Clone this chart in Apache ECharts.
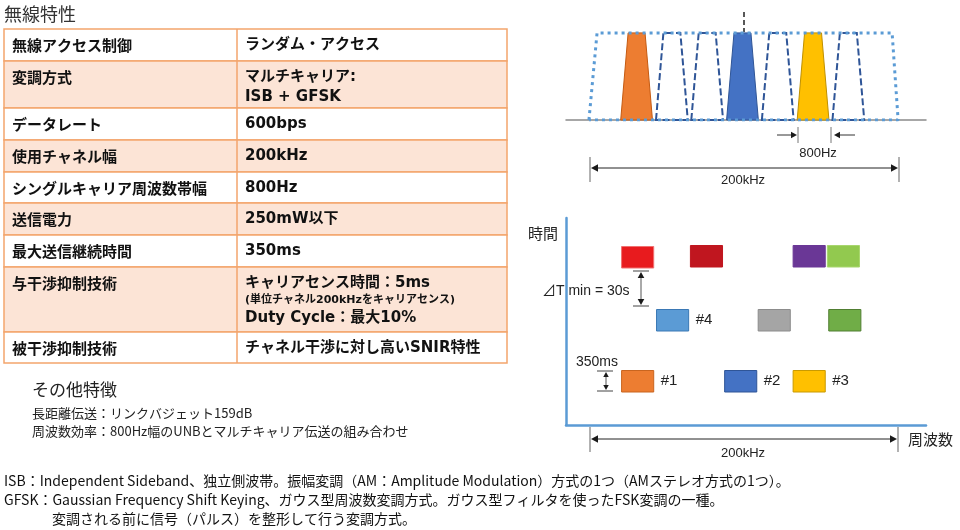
<!DOCTYPE html>
<html><head><meta charset="utf-8">
<script src="https://cdn.jsdelivr.net/npm/echarts@6/dist/echarts.min.js"></script>
<style>html,body{margin:0;padding:0;background:#fff}#c{width:960px;height:530px}</style>
</head><body><div id="c"></div>
<script>
// ---------- data ----------
const tableTitle = '無線特性';
const tableLabels = ['無線アクセス制御','変調方式','データレート','使用チャネル幅','シングルキャリア周波数帯幅','送信電力','最大送信継続時間','与干渉抑制技術','被干渉抑制技術'];
const tableValues = [
  ['ランダム・アクセス'],
  ['マルチキャリア:','ISB + GFSK'],
  ['600bps'],
  ['200kHz'],
  ['800Hz'],
  ['250mW以下'],
  ['350ms'],
  ['キャリアセンス時間：5ms','(単位チャネル200kHzをキャリアセンス)','Duty Cycle：最大10%'],
  ['チャネル干渉に対し高いSNIR特性']
];
const otherTitle = 'その他特徴';
const otherLines = ['長距離伝送：リンクバジェット159dB','周波数効率：800Hz幅のUNBとマルチキャリア伝送の組み合わせ'];
const footnotes = [
  'ISB：Independent Sideband、独立側波帯。振幅変調（AM：Amplitude Modulation）方式の1つ（AMステレオ方式の1つ）。',
  'GFSK：Gaussian Frequency Shift Keying、ガウス型周波数変調方式。ガウス型フィルタを使ったFSK変調の一種。',
  '変調される前に信号（パルス）を整形して行う変調方式。'
];
// spectrum (channel slot units)
const activeSlots = [1, 4, 6];          // #1 #2 #3 carriers
const idleSlots = [2, 3, 5, 7];          // unused carriers (dashed)
const bandOutline = [[-0.35,0],[-0.12,1],[8.24,1],[8.41,0],[-0.35,0]];
// time-frequency map
const tfFreq  = [1.03, 3.95, 5.89, 2.02, 4.90, 6.90, 1.03, 2.98, 5.89, 6.86];
const tfTime  = [3.3, 3.3, 3.3, 9.4, 9.4, 9.4, 15.7, 15.8, 15.8, 15.8];
const tfLabels = ['#1','#2','#3','#4','','','','','',''];
const spanLabel = '200kHz';
const carrierLabel = '800Hz';
const dtLabel = '⊿T min = 30s';
const durLabel = '350ms';
const timeAxisName = '時間';
const freqAxisName = '周波数';

// ---------- styles / layout ----------
const activeFill = ['#ED7D31','#4472C4','#FFC000'];
const activeStroke = ['#C55A11','#2F5597','#BF9000'];
const tfFill = ['#ED7D31','#4472C4','#FFC000','#5B9BD5','#A5A5A5','#70AD47','#E81B1E','#C0161F','#6A3796','#92C94F'];
const tfStroke = ['#C9651F','#2F5597','#C99A00','#3A78B5','#8C8C8C','#507E32','#F07070','#C0161F','#6A3796','#A8D66E'];
const rowEdges = [29,61,108,140,172,203,235,267,332,363];
const valueLineOffsets = {1:[16,36], 7:[16,33,51]};
const tableL = 4, tableR = 507, tableMid = 237;
const CJK = '"Noto Sans CJK JP"';
const BORDER = '#F3A56C';

const g = [];
function txt(text, x, y, font, fill, align, extra) {
  g.push(Object.assign({type:'text', silent:true, style:{text, x, y, font, fill: fill||'#222', align: align||'left', verticalAlign:'middle'}}, extra||{}));
}
function ln(x1,y1,x2,y2,stroke,w,dash){
  g.push({type:'line', silent:true, shape:{x1,y1,x2,y2}, style:{stroke, lineWidth:w||1, lineDash:dash||null}});
}
function head(x,y,dir,s){
  s = s||6; const h = s*0.55; let p;
  if(dir==='r') p=[[x,y],[x-s,y-h],[x-s,y+h]];
  if(dir==='l') p=[[x,y],[x+s,y-h],[x+s,y+h]];
  if(dir==='u') p=[[x,y],[x-h,y+s],[x+h,y+s]];
  if(dir==='d') p=[[x,y],[x-h,y-s],[x+h,y-s]];
  g.push({type:'polygon', silent:true, shape:{points:p}, style:{fill:'#1a1a1a'}});
}

// table
txt(tableTitle, 4, 14, '18px '+CJK, '#333');
for (let i=0;i<tableLabels.length;i++){
  const top=rowEdges[i], bot=rowEdges[i+1];
  g.push({type:'rect', silent:true, shape:{x:tableL,y:top,width:tableR-tableL,height:bot-top},
    style:{fill: i%2? '#FCE4D6':'#FFFFFF', stroke:BORDER, lineWidth:1.5}});
}
ln(tableMid, rowEdges[0], tableMid, rowEdges[rowEdges.length-1], BORDER, 1.5);
for (let i=0;i<tableLabels.length;i++){
  const top=rowEdges[i];
  txt(tableLabels[i], 12, top+16, 'bold 15px '+CJK, '#111');
  const offs = valueLineOffsets[i] || [16];
  tableValues[i].forEach((t,k)=>{
    const small = t.charAt(0)==='(';
    txt(t, 245, top+offs[k], small ? 'bold 11px "DejaVu Sans", '+CJK : 'bold 15px "DejaVu Sans", '+CJK, '#111');
  });
}
// other features
txt(otherTitle, 32, 390, '17px '+CJK, '#222');
txt(otherLines[0], 32, 413, '13px '+CJK, '#222');
txt(otherLines[1], 32, 431, '13px '+CJK, '#222');
// footnotes
txt(footnotes[0], 4, 481, '14px '+CJK, '#111');
txt(footnotes[1], 4, 500, '14px '+CJK, '#111');
txt(footnotes[2], 52, 519, '14px '+CJK, '#111');

// spectrum annotations
ln(744, 12, 744, 32, '#222', 1.5, [5,3]);
ln(798,127,798,143,'#777',1); ln(831,127,831,143,'#777',1);
ln(777,135,792,135,'#333',1); head(797,135,'r',6);
ln(855,135,839,135,'#333',1); head(834,135,'l',6);
txt(carrierLabel, 818, 153, '13px "Liberation Sans"', '#222', 'center');
ln(590,157,590,182,'#999',1.5); ln(899,157,899,182,'#999',1.5);
ln(596,168,893,168,'#222',1); head(591,168,'l',7); head(898,168,'r',7);
txt(spanLabel, 743, 180, '13px "Liberation Sans"', '#222', 'center');

// time-frequency annotations
txt(timeAxisName, 528, 233, '15px '+CJK, '#222');
txt(freqAxisName, 908, 439, '15px '+CJK, '#222');
ln(590,427,590,452,'#999',1.5); ln(898,427,898,452,'#999',1.5);
ln(596,439,892,439,'#222',1); head(591,439,'l',7); head(897,439,'r',7);
txt(spanLabel, 743, 453, '13px "Liberation Sans"', '#222', 'center');
// dT
ln(633,271,649,271,'#444',1); ln(633,306,649,306,'#444',1);
ln(641,277,641,300,'#555',1); head(641,272,'u',6); head(641,305,'d',6);
txt(dtLabel, 542, 291, '14px "Liberation Sans", '+CJK, '#222');
// 350ms
ln(597,371,613,371,'#444',1); ln(597,391,613,391,'#444',1);
ln(606,377,606,385,'#555',1); head(606,372,'u',5); head(606,390,'d',5);
txt(durLabel, 576, 362, '14px "Liberation Sans"', '#222');

const chart = echarts.init(document.getElementById('c'), null, {renderer:'canvas'});
const hidden = {axisTick:{show:false}, axisLabel:{show:false}, splitLine:{show:false}};
chart.setOption({
  backgroundColor:'#fff',
  animation:false,
  grid:[
    {left:566, right:34, top:12, bottom:410},
    {left:566, right:34, top:218, bottom:105}
  ],
  xAxis:[
    Object.assign({type:'value', gridIndex:0, min:-1, max:9.2, axisLine:{show:true, lineStyle:{color:'#8a8a8a', width:1.5}}}, hidden),
    Object.assign({type:'value', gridIndex:1, min:-1, max:9.2, axisLine:{show:true, onZero:false, lineStyle:{color:'#5B9BD5', width:2.5}}}, hidden)
  ],
  yAxis:[
    Object.assign({type:'value', gridIndex:0, min:0, max:1.24, show:false}, hidden),
    Object.assign({type:'value', gridIndex:1, min:0, max:20.7, axisLine:{show:true, onZero:false, lineStyle:{color:'#5B9BD5', width:2.5}}}, hidden)
  ],
  graphic: g,
  series:[
    {type:'custom', xAxisIndex:0, yAxisIndex:0, clip:false, z:2,
     data: idleSlots.map(v=>[v]),
     renderItem:(p,api)=>{const c=api.value(0);
       return {type:'polygon', shape:{points:[api.coord([c-0.45,0]),api.coord([c-0.24,1]),api.coord([c+0.24,1]),api.coord([c+0.45,0])]},
         style:{fill:'none', stroke:'#2F5597', lineWidth:2, lineDash:[7,3]}};}},
    {type:'custom', xAxisIndex:0, yAxisIndex:0, clip:false, z:3,
     data: activeSlots.map(v=>[v]),
     renderItem:(p,api)=>{const c=api.value(0), i=p.dataIndex;
       return {type:'polygon', shape:{points:[api.coord([c-0.45,0]),api.coord([c-0.24,1]),api.coord([c+0.24,1]),api.coord([c+0.45,0])]},
         style:{fill:activeFill[i], stroke:activeStroke[i], lineWidth:1}};}},
    {type:'line', xAxisIndex:0, yAxisIndex:0, z:4, symbol:'none', silent:true,
     data: bandOutline, lineStyle:{color:'#5B9BD5', width:3, type:[3,4]}},
    {type:'custom', xAxisIndex:1, yAxisIndex:1, clip:false, z:3,
     data: tfFreq.map((f,i)=>[f, tfTime[i]]),
     renderItem:(p,api)=>{const x=api.value(0), t=api.value(1), i=p.dataIndex;
       const a=api.coord([x-0.455, t+2.15]), b=api.coord([x+0.455, t]);
       return {type:'group', children:[
         {type:'rect', shape:{x:a[0], y:a[1], width:b[0]-a[0], height:b[1]-a[1]}, style:{fill:tfFill[i], stroke:tfStroke[i], lineWidth:1}},
         {type:'text', style:{text:tfLabels[i], x:b[0]+7, y:(a[1]+b[1])/2, font:'15px "Liberation Sans"', fill:'#222', verticalAlign:'middle'}}
       ]};}}
  ]
});
</script></body></html>
